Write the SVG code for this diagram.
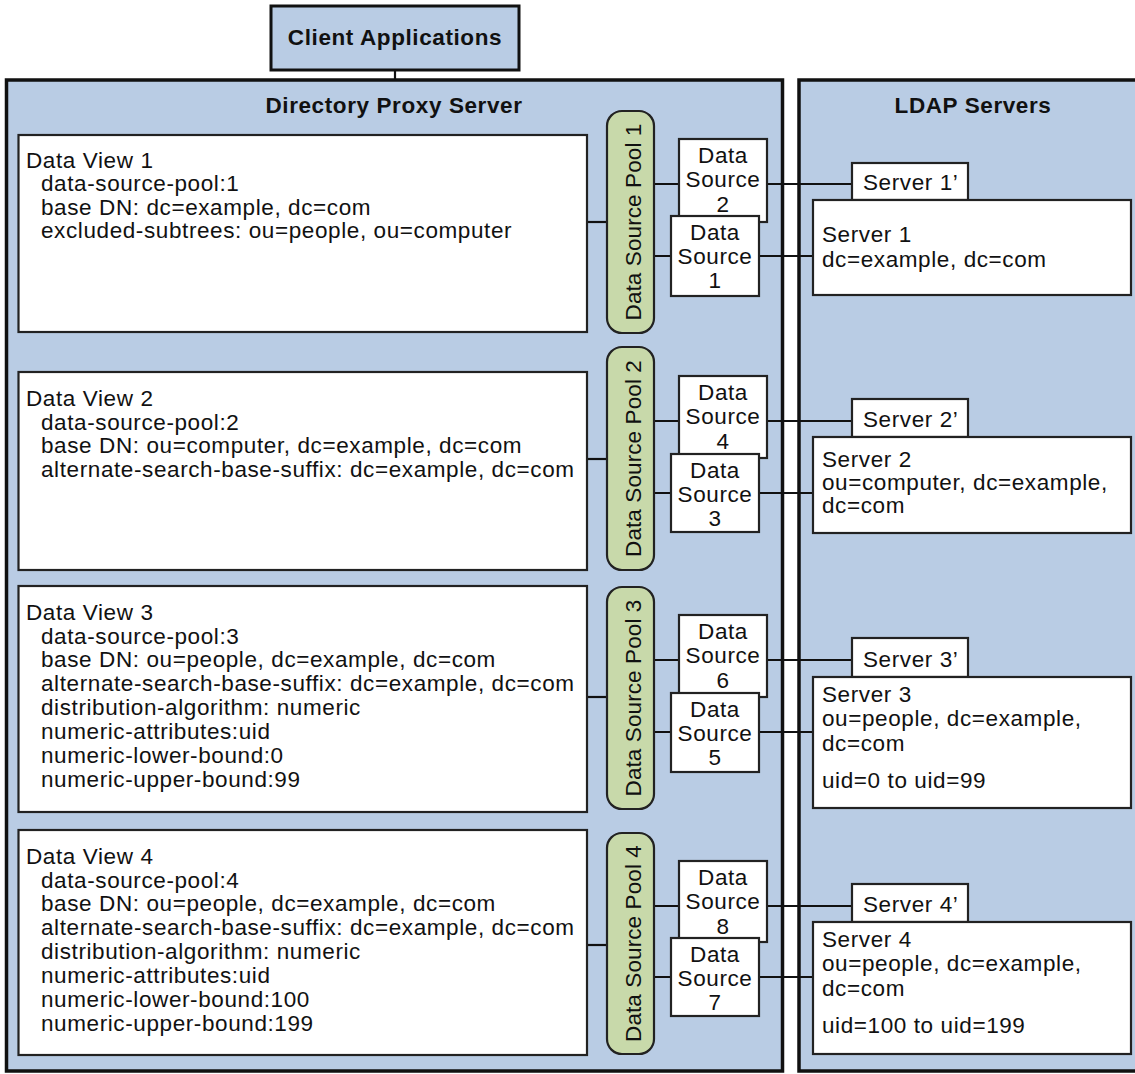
<svg xmlns="http://www.w3.org/2000/svg" width="1135" height="1074" viewBox="0 0 1135 1074">
<style>
text{font-family:"Liberation Sans",Arial,sans-serif;font-size:22.5px;letter-spacing:0.6px;fill:#111}
.b{font-weight:bold}
.m{text-anchor:middle}
.big{fill:#b9cce4;stroke:#111;stroke-width:3.5}
.hdr{fill:#b9cce4;stroke:#111;stroke-width:3}
.box{fill:#fff;stroke:#222;stroke-width:2.2}
.pool{fill:#c8d9aa;stroke:#222;stroke-width:2.2}
.pt{letter-spacing:0.1px}
.ln{stroke:#111;stroke-width:2.2;fill:none}
</style>
<rect width="1135" height="1074" fill="#fff"/>
<g id="dps">
<rect class="big" x="6.5" y="80" width="776" height="991"/>
<text class="b m" x="394" y="113">Directory Proxy Server</text>
</g>
<g id="ldap">
<rect class="big" x="799" y="80" width="350" height="991"/>
<text class="b m" x="973" y="113">LDAP Servers</text>
</g>
<g id="connectors">
<line class="ln" x1="395" y1="70" x2="395" y2="80"/>
<line class="ln" x1="587" y1="222" x2="607" y2="222"/>
<line class="ln" x1="587" y1="459" x2="607" y2="459"/>
<line class="ln" x1="587" y1="697" x2="607" y2="697"/>
<line class="ln" x1="587" y1="945" x2="607" y2="945"/>
<line class="ln" x1="654" y1="184" x2="852" y2="184"/>
<line class="ln" x1="654" y1="256" x2="813" y2="256"/>
<line class="ln" x1="654" y1="421" x2="852" y2="421"/>
<line class="ln" x1="654" y1="493" x2="813" y2="493"/>
<line class="ln" x1="654" y1="660" x2="852" y2="660"/>
<line class="ln" x1="654" y1="732" x2="813" y2="732"/>
<line class="ln" x1="654" y1="906" x2="852" y2="906"/>
<line class="ln" x1="654" y1="977" x2="813" y2="977"/>
</g>
<g id="client">
<rect class="hdr" x="271" y="6" width="248" height="64"/>
<text class="b m" x="395" y="45">Client Applications</text>
</g>
<g id="dv1">
<rect class="box" x="18.5" y="135" width="568.5" height="197"/>
<text x="26" y="168">Data View 1</text>
<text x="41" y="191">data-source-pool:1</text>
<text x="41" y="215">base DN: dc=example, dc=com</text>
<text x="41" y="238">excluded-subtrees: ou=people, ou=computer</text>
</g>
<g id="dv2">
<rect class="box" x="18.5" y="372" width="568.5" height="198"/>
<text x="26" y="406">Data View 2</text>
<text x="41" y="429.5">data-source-pool:2</text>
<text x="41" y="453">base DN: ou=computer, dc=example, dc=com</text>
<text x="41" y="476.5">alternate-search-base-suffix: dc=example, dc=com</text>
</g>
<g id="dv3">
<rect class="box" x="18.5" y="586" width="568.5" height="226"/>
<text x="26" y="620">Data View 3</text>
<text x="41" y="643.5">data-source-pool:3</text>
<text x="41" y="667">base DN: ou=people, dc=example, dc=com</text>
<text x="41" y="691">alternate-search-base-suffix: dc=example, dc=com</text>
<text x="41" y="715">distribution-algorithm: numeric</text>
<text x="41" y="739">numeric-attributes:uid</text>
<text x="41" y="763">numeric-lower-bound:0</text>
<text x="41" y="787">numeric-upper-bound:99</text>
</g>
<g id="dv4">
<rect class="box" x="18.5" y="830" width="568.5" height="225"/>
<text x="26" y="864">Data View 4</text>
<text x="41" y="887.5">data-source-pool:4</text>
<text x="41" y="911">base DN: ou=people, dc=example, dc=com</text>
<text x="41" y="935">alternate-search-base-suffix: dc=example, dc=com</text>
<text x="41" y="959">distribution-algorithm: numeric</text>
<text x="41" y="983">numeric-attributes:uid</text>
<text x="41" y="1007">numeric-lower-bound:100</text>
<text x="41" y="1031">numeric-upper-bound:199</text>
</g>
<g id="pool1">
<rect class="pool" x="607" y="111" width="47" height="222" rx="15"/>
<text class="m pt" transform="translate(641,222) rotate(-90)">Data Source Pool 1</text>
</g>
<g id="pool2">
<rect class="pool" x="607" y="347" width="47" height="223" rx="15"/>
<text class="m pt" transform="translate(641,458.5) rotate(-90)">Data Source Pool 2</text>
</g>
<g id="pool3">
<rect class="pool" x="607" y="587" width="47" height="222" rx="15"/>
<text class="m pt" transform="translate(641,698) rotate(-90)">Data Source Pool 3</text>
</g>
<g id="pool4">
<rect class="pool" x="607" y="833" width="47" height="221" rx="15"/>
<text class="m pt" transform="translate(641,943.5) rotate(-90)">Data Source Pool 4</text>
</g>
<g id="ds2">
<rect class="box" x="679" y="139" width="88" height="83"/>
<text class="m" x="723" y="163">Data</text><text class="m" x="723" y="187">Source</text><text class="m" x="723" y="212">2</text>
</g>
<g id="ds1">
<rect class="box" x="671" y="216" width="88" height="80"/>
<text class="m" x="715" y="240">Data</text><text class="m" x="715" y="264">Source</text><text class="m" x="715" y="288">1</text>
</g>
<g id="ds4">
<rect class="box" x="679" y="376" width="88" height="82"/>
<text class="m" x="723" y="400">Data</text><text class="m" x="723" y="424">Source</text><text class="m" x="723" y="449">4</text>
</g>
<g id="ds3">
<rect class="box" x="671" y="454" width="88" height="78"/>
<text class="m" x="715" y="478">Data</text><text class="m" x="715" y="502">Source</text><text class="m" x="715" y="526">3</text>
</g>
<g id="ds6">
<rect class="box" x="679" y="615" width="88" height="82"/>
<text class="m" x="723" y="639">Data</text><text class="m" x="723" y="663">Source</text><text class="m" x="723" y="688">6</text>
</g>
<g id="ds5">
<rect class="box" x="671" y="693" width="88" height="79"/>
<text class="m" x="715" y="717">Data</text><text class="m" x="715" y="741">Source</text><text class="m" x="715" y="765">5</text>
</g>
<g id="ds8">
<rect class="box" x="679" y="861" width="88" height="81"/>
<text class="m" x="723" y="885">Data</text><text class="m" x="723" y="909">Source</text><text class="m" x="723" y="934">8</text>
</g>
<g id="ds7">
<rect class="box" x="671" y="938" width="88" height="78"/>
<text class="m" x="715" y="962">Data</text><text class="m" x="715" y="986">Source</text><text class="m" x="715" y="1010">7</text>
</g>
<g id="server1p">
<rect class="box" x="852" y="163" width="116" height="37"/>
<text x="863" y="190">Server 1’</text>
</g>
<g id="server1">
<rect class="box" x="813" y="200" width="318" height="95"/>
<text x="822" y="242">Server 1</text>
<text x="822" y="267">dc=example, dc=com</text>
</g>
<g id="server2p">
<rect class="box" x="852" y="399" width="116" height="38"/>
<text x="863" y="427">Server 2’</text>
</g>
<g id="server2">
<rect class="box" x="813" y="437" width="318" height="96"/>
<text x="822" y="467">Server 2</text>
<text x="822" y="490">ou=computer, dc=example,</text>
<text x="822" y="513">dc=com</text>
</g>
<g id="server3p">
<rect class="box" x="852" y="638" width="116" height="39"/>
<text x="863" y="667">Server 3’</text>
</g>
<g id="server3">
<rect class="box" x="813" y="677" width="318" height="131"/>
<text x="822" y="702">Server 3</text>
<text x="822" y="726">ou=people, dc=example,</text>
<text x="822" y="751">dc=com</text>
<text x="822" y="788">uid=0 to uid=99</text>
</g>
<g id="server4p">
<rect class="box" x="852" y="884" width="116" height="38"/>
<text x="863" y="912">Server 4’</text>
</g>
<g id="server4">
<rect class="box" x="813" y="922" width="318" height="132"/>
<text x="822" y="947">Server 4</text>
<text x="822" y="971">ou=people, dc=example,</text>
<text x="822" y="996">dc=com</text>
<text x="822" y="1033">uid=100 to uid=199</text>
</g>
</svg>
